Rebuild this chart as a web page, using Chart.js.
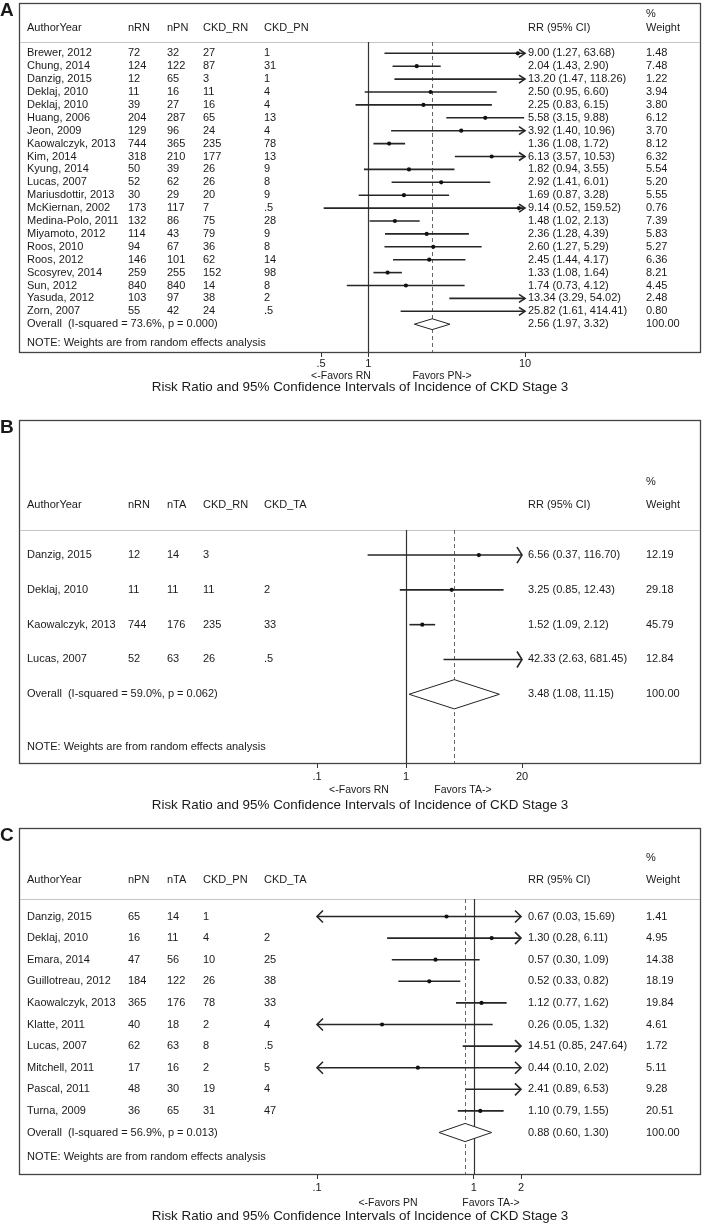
<!DOCTYPE html>
<html>
<head>
<meta charset="utf-8">
<script src="https://cdn.jsdelivr.net/npm/chart.js@4.4.1/dist/chart.umd.min.js"></script>
<style>
  body { margin: 0; background: #fff; width: 702px; height: 1223px; position: relative; overflow: hidden; }
  canvas { position: absolute; left: 0; }
</style>
</head>
<body>
<canvas id="panelA" width="702" height="410" style="top:0px"></canvas>
<canvas id="panelB" width="702" height="410" style="top:410px"></canvas>
<canvas id="panelC" width="702" height="403" style="top:820px"></canvas>
<script>
// ---------- Panel A: RN vs PN ----------
const studiesA = ['Brewer, 2012', 'Chung, 2014', 'Danzig, 2015', 'Deklaj, 2010', 'Deklaj, 2010', 'Huang, 2006',
  'Jeon, 2009', 'Kaowalczyk, 2013', 'Kim, 2014', 'Kyung, 2014', 'Lucas, 2007', 'Mariusdottir, 2013',
  'McKiernan, 2002', 'Medina-Polo, 2011', 'Miyamoto, 2012', 'Roos, 2010', 'Roos, 2012', 'Scosyrev, 2014',
  'Sun, 2012', 'Yasuda, 2012', 'Zorn, 2007'];
const nRN_A   = [72, 124, 12, 11, 39, 204, 129, 744, 318, 50, 52, 30, 173, 132, 114, 94, 146, 259, 840, 103, 55];
const nPN_A   = [32, 122, 65, 16, 27, 287, 96, 365, 210, 39, 62, 29, 117, 86, 43, 67, 101, 255, 840, 97, 42];
const ckdRN_A = [27, 87, 3, 11, 16, 65, 24, 235, 177, 26, 26, 20, 7, 75, 79, 36, 62, 152, 14, 38, 24];
const ckdPN_A = [1, 31, 1, 4, 4, 13, 4, 78, 13, 9, 8, 9, 0.5, 28, 9, 8, 14, 98, 8, 2, 0.5];
const rrA  = [9.00, 2.04, 13.20, 2.50, 2.25, 5.58, 3.92, 1.36, 6.13, 1.82, 2.92, 1.69, 9.14, 1.48, 2.36, 2.60, 2.45, 1.33, 1.74, 13.34, 25.82];
const loA  = [1.27, 1.43, 1.47, 0.95, 0.83, 3.15, 1.40, 1.08, 3.57, 0.94, 1.41, 0.87, 0.52, 1.02, 1.28, 1.27, 1.44, 1.08, 0.73, 3.29, 1.61];
const hiA  = [63.68, 2.90, 118.26, 6.60, 6.15, 9.88, 10.96, 1.72, 10.53, 3.55, 6.01, 3.28, 159.52, 2.13, 4.39, 5.29, 4.17, 1.64, 4.12, 54.02, 414.41];
const wtA  = [1.48, 7.48, 1.22, 3.94, 3.80, 6.12, 3.70, 8.12, 6.32, 5.54, 5.20, 5.55, 0.76, 7.39, 5.83, 5.27, 6.36, 8.21, 4.45, 2.48, 0.80];
const overallA = [2.56, 1.97, 3.32];
const hetA = ['73.6%', '0.000'];
const headA = ['AuthorYear', 'nRN', 'nPN', 'CKD_RN', 'CKD_PN'];
const ticksA = [0.5, 1, 10];
const tickLabelsA = ['.5', '1', '10'];
const favorsA = ['<-Favors RN', 'Favors PN->'];

// ---------- Panel B: RN vs TA ----------
const studiesB = ['Danzig, 2015', 'Deklaj, 2010', 'Kaowalczyk, 2013', 'Lucas, 2007'];
const nRN_B   = [12, 11, 744, 52];
const nTA_B   = [14, 11, 176, 63];
const ckdRN_B = [3, 11, 235, 26];
const ckdTA_B = [0, 2, 33, 0.5];
const rrB  = [6.56, 3.25, 1.52, 42.33];
const loB  = [0.37, 0.85, 1.09, 2.63];
const hiB  = [116.70, 12.43, 2.12, 681.45];
const wtB  = [12.19, 29.18, 45.79, 12.84];
const overallB = [3.48, 1.08, 11.15];
const hetB = ['59.0%', '0.062'];
const headB = ['AuthorYear', 'nRN', 'nTA', 'CKD_RN', 'CKD_TA'];
const ticksB = [0.1, 1, 20];
const tickLabelsB = ['.1', '1', '20'];
const favorsB = ['<-Favors RN', 'Favors TA->'];

// ---------- Panel C: PN vs TA ----------
const studiesC = ['Danzig, 2015', 'Deklaj, 2010', 'Emara, 2014', 'Guillotreau, 2012', 'Kaowalczyk, 2013',
  'Klatte, 2011', 'Lucas, 2007', 'Mitchell, 2011', 'Pascal, 2011', 'Turna, 2009'];
const nPN_C   = [65, 16, 47, 184, 365, 40, 62, 17, 48, 36];
const nTA_C   = [14, 11, 56, 122, 176, 18, 63, 16, 30, 65];
const ckdPN_C = [1, 4, 10, 26, 78, 2, 8, 2, 19, 31];
const ckdTA_C = [0, 2, 25, 38, 33, 4, 0.5, 5, 4, 47];
const rrC  = [0.67, 1.30, 0.57, 0.52, 1.12, 0.26, 14.51, 0.44, 2.41, 1.10];
const loC  = [0.03, 0.28, 0.30, 0.33, 0.77, 0.05, 0.85, 0.10, 0.89, 0.79];
const hiC  = [15.69, 6.11, 1.09, 0.82, 1.62, 1.32, 247.64, 2.02, 6.53, 1.55];
const wtC  = [1.41, 4.95, 14.38, 18.19, 19.84, 4.61, 1.72, 5.11, 9.28, 20.51];
const overallC = [0.88, 0.60, 1.30];
const hetC = ['56.9%', '0.013'];
const headC = ['AuthorYear', 'nPN', 'nTA', 'CKD_PN', 'CKD_TA'];
const ticksC = [0.1, 1, 2];
const tickLabelsC = ['.1', '1', '2'];
const favorsC = ['<-Favors PN', 'Favors TA->'];

const titleText = 'Risk Ratio and 95% Confidence Intervals of Incidence of CKD Stage 3';
const noteText = 'NOTE: Weights are from random effects analysis';

const FONT = '"Liberation Sans", Arial, Helvetica, sans-serif';
Chart.defaults.font.family = FONT;

const colX = [27, 128, 167, 203, 264];
const rrX = 528, wtX = 646;

function cnt(v) { return v < 1 ? String(v).replace(/^0/, '') : String(v); }

function txt(ctx, s, x, y, size, align, weight) {
  ctx.font = (weight ? weight + ' ' : '') + size + 'px ' + FONT;
  ctx.textAlign = align || 'left';
  ctx.textBaseline = 'middle';
  ctx.fillText(s, x, y);
}

function arrowHead(ctx, xp, yp, dir, len, half) {
  ctx.beginPath();
  ctx.moveTo(xp - dir * len, yp - half);
  ctx.lineTo(xp, yp);
  ctx.lineTo(xp - dir * len, yp + half);
  ctx.stroke();
}

const forestPlugin = {
  id: 'forest',
  beforeDatasetsDraw(chart, args, p) {
    const ctx = chart.ctx, xs = chart.scales.x, ys = chart.scales.y, area = chart.chartArea;
    const n = p.studies.length;
    ctx.save();

    // frame and header separator
    ctx.strokeStyle = '#444';
    ctx.lineWidth = 1.3;
    ctx.strokeRect(19.5, p.boxTop + 0.5, 681, area.bottom - p.boxTop);
    ctx.strokeStyle = '#c4c4c4';
    ctx.lineWidth = 1;
    ctx.beginPath();
    ctx.moveTo(20, area.top + 0.5);
    ctx.lineTo(700, area.top + 0.5);
    ctx.stroke();

    // null line
    const x1 = Math.round(xs.getPixelForValue(1)) + 0.5;
    ctx.strokeStyle = '#333';
    ctx.lineWidth = 1.2;
    ctx.beginPath();
    ctx.moveTo(x1, area.top);
    ctx.lineTo(x1, area.bottom);
    ctx.stroke();

    // overall estimate dashed line
    const xo = Math.round(xs.getPixelForValue(p.overall[0])) + 0.5;
    ctx.strokeStyle = '#666';
    ctx.lineWidth = 1;
    ctx.setLineDash([4, 3]);
    ctx.beginPath();
    ctx.moveTo(xo, area.top);
    ctx.lineTo(xo, area.bottom);
    ctx.stroke();
    ctx.setLineDash([]);

    // confidence intervals
    ctx.strokeStyle = '#262626';
    ctx.lineWidth = 1.6;
    for (let i = 0; i < n; i++) {
      const yp = ys.getPixelForValue(i + 1);
      const lo = Math.max(p.lo[i], xs.min), hi = Math.min(p.hi[i], xs.max);
      const xl = xs.getPixelForValue(lo), xh = xs.getPixelForValue(hi);
      ctx.beginPath();
      ctx.moveTo(xl, yp);
      ctx.lineTo(xh, yp);
      ctx.stroke();
      if (p.hi[i] > xs.max) arrowHead(ctx, xh, yp, 1, p.arrow[0], p.arrow[1]);
      if (p.lo[i] <= xs.min) arrowHead(ctx, xl, yp, -1, p.arrow[0], p.arrow[1]);
    }

    // overall diamond
    const yd = n + 1;
    ctx.strokeStyle = '#222';
    ctx.lineWidth = 1;
    ctx.fillStyle = '#fff';
    ctx.beginPath();
    ctx.moveTo(xs.getPixelForValue(p.overall[1]), ys.getPixelForValue(yd));
    ctx.lineTo(xs.getPixelForValue(p.overall[0]), ys.getPixelForValue(yd - 0.42));
    ctx.lineTo(xs.getPixelForValue(p.overall[2]), ys.getPixelForValue(yd));
    ctx.lineTo(xs.getPixelForValue(p.overall[0]), ys.getPixelForValue(yd + 0.42));
    ctx.closePath();
    ctx.fill();
    ctx.stroke();

    // text table
    ctx.fillStyle = '#1a1a1a';
    const fs = 11;
    txt(ctx, p.label, 0, p.boxTop + 8, 19, 'left', 'bold');
    txt(ctx, '%', wtX, p.pctY, fs);
    p.head.forEach((h, k) => txt(ctx, h, colX[k], p.headY, fs));
    txt(ctx, 'RR (95% CI)', rrX, p.headY, fs);
    txt(ctx, 'Weight', wtX, p.headY, fs);
    for (let i = 0; i < n; i++) {
      const yp = ys.getPixelForValue(i + 1);
      txt(ctx, p.studies[i], colX[0], yp, fs);
      p.cols.forEach((c, k) => txt(ctx, cnt(c[i]), colX[k + 1], yp, fs));
      txt(ctx, p.rr[i].toFixed(2) + ' (' + p.lo[i].toFixed(2) + ', ' + p.hi[i].toFixed(2) + ')', rrX, yp, fs);
      txt(ctx, p.wt[i].toFixed(2), wtX, yp, fs);
    }
    const yov = ys.getPixelForValue(yd);
    txt(ctx, 'Overall  (I-squared = ' + p.het[0] + ', p = ' + p.het[1] + ')', colX[0], yov, fs);
    txt(ctx, p.overall[0].toFixed(2) + ' (' + p.overall[1].toFixed(2) + ', ' + p.overall[2].toFixed(2) + ')', rrX, yov, fs);
    txt(ctx, '100.00', wtX, yov, fs);
    txt(ctx, noteText, colX[0], ys.getPixelForValue(p.noteY), fs);

    // favours labels and axis title
    txt(ctx, p.favors[0], p.favorsX[0], p.favorsY, 10.5, 'center');
    txt(ctx, p.favors[1], p.favorsX[1], p.favorsY, 10.5, 'center');
    ctx.font = '14px ' + FONT;
    const tsize = 14 * 417 / ctx.measureText(titleText).width;
    txt(ctx, titleText, 360, p.titleY, tsize, 'center');
    ctx.restore();
  }
};

function makePanel(id, p) {
  const points = [];
  p.rr.forEach((v, i) => {
    if (v >= p.min && v <= p.max) points.push({ x: v, y: i + 1 });
  });
  new Chart(document.getElementById(id), {
    type: 'scatter',
    data: {
      datasets: [{
        data: points,
        pointRadius: 2.1,
        pointStyle: 'circle',
        backgroundColor: '#111',
        borderColor: '#111',
        borderWidth: 0
      }]
    },
    options: {
      responsive: false,
      animation: false,
      events: [],
      layout: { padding: { left: p.left, right: 702 - p.right, top: p.top, bottom: p.bottom } },
      plugins: { legend: { display: false }, tooltip: { enabled: false }, forest: p },
      scales: {
        x: {
          type: 'logarithmic',
          min: p.min,
          max: p.max,
          afterBuildTicks: (axis) => { axis.ticks = p.ticks.map(v => ({ value: v })); },
          afterFit: (axis) => { axis.height = 20; },
          ticks: {
            callback: (v, idx) => p.tickLabels[idx],
            autoSkip: false,
            maxRotation: 0,
            padding: p.tickPad,
            color: '#1a1a1a',
            font: { size: 11 }
          },
          grid: { drawOnChartArea: false, drawTicks: true, tickLength: 5, color: '#333' },
          border: { display: false }
        },
        y: { type: 'linear', reverse: true, min: p.yMin, max: p.yMax, display: false }
      }
    },
    plugins: [forestPlugin]
  });
}

makePanel('panelA', {
  label: 'A', studies: studiesA, cols: [nRN_A, nPN_A, ckdRN_A, ckdPN_A], head: headA,
  rr: rrA, lo: loA, hi: hiA, wt: wtA, overall: overallA, het: hetA,
  ticks: ticksA, tickLabels: tickLabelsA, favors: favorsA, min: 0.5, max: 10,
  left: 321, right: 525, top: 42, bottom: 38, tickPad: 0,
  yMin: 0.124, yMax: 24.155, noteY: 23.46,
  boxTop: 3, pctY: 14, headY: 28, favorsX: [341, 442], favorsY: 376, titleY: 387,
  arrow: [6, 4]
});

makePanel('panelB', {
  label: 'B', studies: studiesB, cols: [nRN_B, nTA_B, ckdRN_B, ckdTA_B], head: headB,
  rr: rrB, lo: loB, hi: hiB, wt: wtB, overall: overallB, het: hetB,
  ticks: ticksB, tickLabels: tickLabelsB, favors: favorsB, min: 0.1, max: 20,
  left: 317, right: 522, top: 120, bottom: 37, tickPad: 2,
  yMin: 0.28, yMax: 6.975, noteY: 6.52,
  boxTop: 10, pctY: 72, headY: 95, favorsX: [359, 463], favorsY: 380, titleY: 395,
  arrow: [5, 8]
});

makePanel('panelC', {
  label: 'C', studies: studiesC, cols: [nPN_C, nTA_C, ckdPN_C, ckdTA_C], head: headC,
  rr: rrC, lo: loC, hi: hiC, wt: wtC, overall: overallC, het: hetC,
  ticks: ticksC, tickLabels: tickLabelsC, favors: favorsC, min: 0.1, max: 2,
  left: 317, right: 521, top: 79, bottom: 29, tickPad: 2,
  yMin: 0.19, yMax: 12.92, noteY: 12.13,
  boxTop: 8, pctY: 38, headY: 60, favorsX: [388, 491], favorsY: 383, titleY: 396,
  arrow: [6, 6]
});
</script>
</body>
</html>
